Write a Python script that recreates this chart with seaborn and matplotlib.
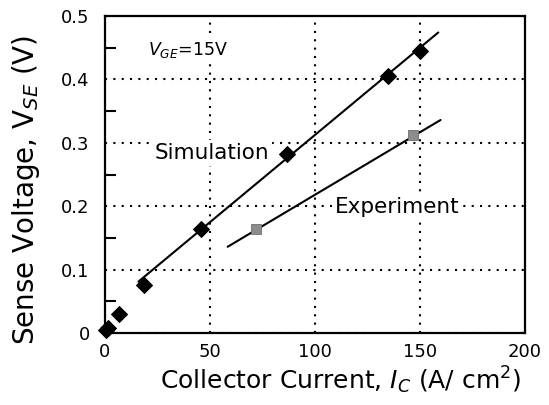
import matplotlib
matplotlib.use("Agg")
import matplotlib.pyplot as plt
import seaborn as sns
import pandas as pd

# Data
sim_x = [0.5, 1.6, 6.8, 18.6, 45.7, 86.5, 134.8, 150.0]
sim_y = [0.004, 0.008, 0.030, 0.076, 0.164, 0.282, 0.406, 0.445]
exp_x = [71.9, 146.8]
exp_y = [0.164, 0.312]
sim_fit_x = [15.9, 158.7]
sim_fit_y = [0.081, 0.474]
exp_fit_x = [58.4, 159.8]
exp_fit_y = [0.136, 0.336]
x_ticks = [0, 50, 100, 150, 200]
y_ticks = [0, 0.1, 0.2, 0.3, 0.4, 0.5]
y_tick_labels = ["0", "0.1", "0.2", "0.3", "0.4", "0.5"]

sns.set_theme(style="white")
plt.rcParams["font.family"] = ["DejaVu Sans"]
plt.rcParams["mathtext.fontset"] = "dejavusans"

fig = plt.figure(figsize=(5.49, 4.05), dpi=100)
ax = fig.add_axes([105 / 549, 1 - 333 / 405, 420 / 549, 317 / 405])

sim = pd.DataFrame({"x": sim_x, "y": sim_y})
exp = pd.DataFrame({"x": exp_x, "y": exp_y})
simfit = pd.DataFrame({"x": sim_fit_x, "y": sim_fit_y})
expfit = pd.DataFrame({"x": exp_fit_x, "y": exp_fit_y})

sns.lineplot(data=simfit, x="x", y="y", ax=ax, color="black", lw=1.5, zorder=4)
sns.lineplot(data=expfit, x="x", y="y", ax=ax, color="black", lw=1.5, zorder=4)
sns.scatterplot(data=sim, x="x", y="y", ax=ax, marker="D", s=65, color="black",
                edgecolor="black", linewidth=0.8, zorder=5, clip_on=False)
sns.scatterplot(data=exp, x="x", y="y", ax=ax, marker="s", s=50, color="#8c8c8c",
                edgecolor="#707070", linewidth=0.6, zorder=5)

ax.set_xlim(0, 200)
ax.set_ylim(0, 0.5)
ax.set_xticks(x_ticks)
ax.set_yticks(y_ticks)
ax.set_yticklabels(y_tick_labels)
ax.set_yticks([0.05, 0.15, 0.25, 0.35, 0.45], minor=True)

ax.grid(True, which="major", color="black", linestyle=(0, (1, 3)), lw=1.5)
ax.set_axisbelow(True)

for s in ax.spines.values():
    s.set_color("black")
    s.set_linewidth(1.6)

ax.tick_params(axis="both", which="both", direction="in", color="black",
               labelsize=13, labelcolor="black")
ax.tick_params(axis="x", which="major", length=7, width=1.5, pad=7, top=False)
ax.tick_params(axis="y", which="major", length=7, width=1.5, pad=11, right=False)
ax.tick_params(axis="y", which="minor", length=8, width=1.5, left=True)

ax.set_xlabel(r"Collector Current, $\mathit{I}_{\mathit{C}}$ (A/ cm$^{2}$)",
              fontsize=18, color="black")
ax.set_ylabel(r"Sense Voltage, $\mathrm{V}_{\mathit{SE}}$ (V)",
              fontsize=20, color="black")
ax.xaxis.set_label_coords(0.561, -0.100)
ax.yaxis.set_label_coords(-0.150, 0.452)

bbox = dict(facecolor="white", edgecolor="none", pad=2)
ax.text(20.5, 0.439, r"$\mathit{V}_{\mathit{GE}}$=15V", fontsize=12.5, ha="left",
        va="baseline", color="black", bbox=bbox, zorder=3)
ax.text(50.8, 0.2744, "Simulation", fontsize=15.5, ha="center", va="baseline",
        color="black", bbox=bbox, zorder=3)
ax.text(138.9, 0.189, "Experiment", fontsize=15.5, ha="center", va="baseline",
        color="black", bbox=bbox, zorder=3)

ax.set_facecolor("white")
fig.patch.set_facecolor("white")
fig.savefig("out.png", dpi=100)
